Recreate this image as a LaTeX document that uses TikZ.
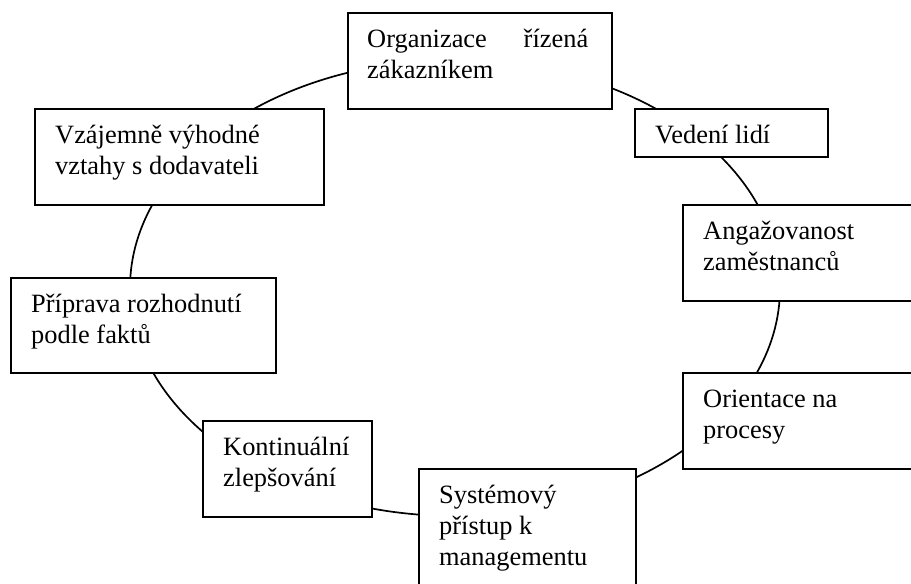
\documentclass[tikz,border=0pt]{standalone}
\usepackage{fontspec}
\setmainfont{Liberation Serif}
% stacked left-aligned lines whose baseline is the first line's
\newcommand\stackedlines[1]{\begin{tabular}[t]{@{}l@{}}#1\end{tabular}}
\begin{document}
\begin{tikzpicture}[x=1pt,y=-1pt,
  ring/.style={line width=1.7pt},
  box/.style={draw, line width=1.9pt, fill=white, anchor=north west, inner sep=0pt},
  lbl/.style={anchor=base west, inner sep=0pt,
    font=\fontsize{26.4}{31}\selectfont}]
\useasboundingbox (0,0) rectangle (911,584);
\clip (0,0) rectangle (911,584);

% the cycle behind the boxes
\draw[ring] (455,288) ellipse [x radius=325, y radius=228];

% principle boxes
\node[box, minimum width=264pt, minimum height=96pt] (org) at (347,12) {};
\node[box, minimum width=193pt, minimum height=48pt] (ved) at (634,108) {};
\node[box, minimum width=250pt, minimum height=96pt] (ang) at (682,204) {};
\node[box, minimum width=250pt, minimum height=96pt] (ori) at (682,372) {};
\node[box, minimum width=217pt, minimum height=140pt] (sys) at (418,468) {};
\node[box, minimum width=169pt, minimum height=96pt] (kon) at (202,420) {};
\node[box, minimum width=265pt, minimum height=95pt] (pri) at (10,277) {};
\node[box, minimum width=289pt, minimum height=96pt] (vza) at (34,108) {};

% labels
\node[lbl] (torg) at ([xshift=20pt,yshift=-35pt]org.north west) {\stackedlines{\makebox[221pt][s]{Organizace řízená}\\zákazníkem}};
\node[lbl] (tved) at ([xshift=21pt,yshift=-35pt]ved.north west) {Vedení lidí};
\node[lbl] (tang) at ([xshift=21pt,yshift=-35pt]ang.north west) {\stackedlines{Angažovanost\\zaměstnanců}};
\node[lbl] (tori) at ([xshift=21pt,yshift=-35pt]ori.north west) {\stackedlines{Orientace na\\procesy}};
\node[lbl] (tsys) at ([xshift=21pt,yshift=-35pt]sys.north west) {\stackedlines{Systémový\\přístup k\\managementu}};
\node[lbl] (tkon) at ([xshift=21pt,yshift=-35pt]kon.north west) {\stackedlines{Kontinuální\\zlepšování}};
\node[lbl] (tpri) at ([xshift=21pt,yshift=-35pt]pri.north west) {\stackedlines{Příprava rozhodnutí\\podle faktů}};
\node[lbl] (tvza) at ([xshift=21pt,yshift=-35pt]vza.north west) {\stackedlines{Vzájemně výhodné\\vztahy s dodavateli}};
\end{tikzpicture}
\end{document}
